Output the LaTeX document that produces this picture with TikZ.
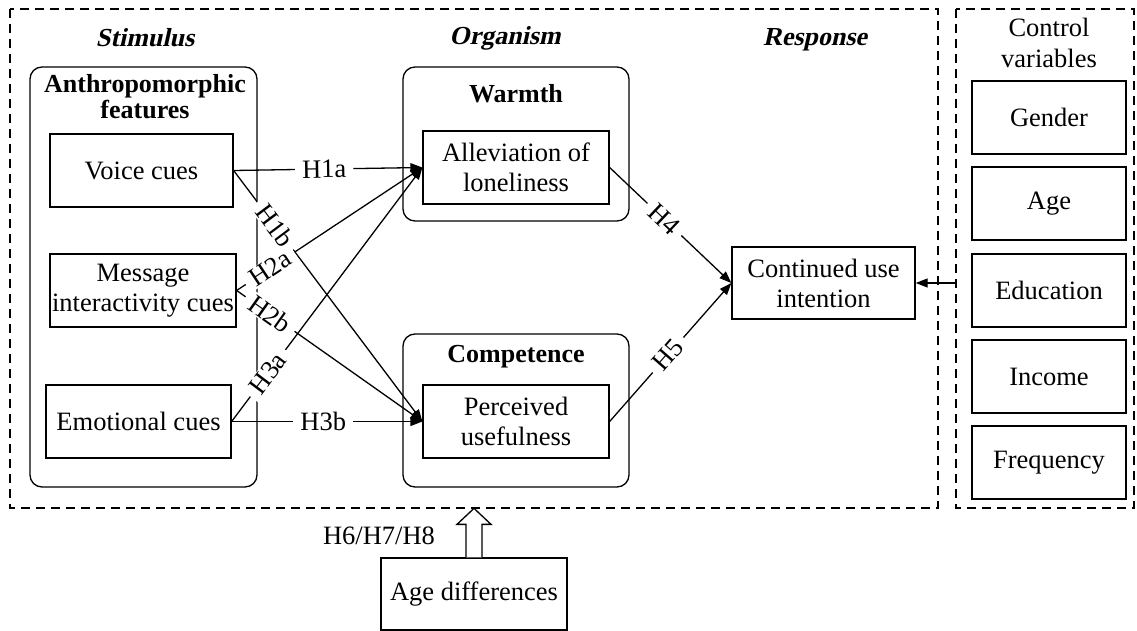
\documentclass[tikz,border=0pt]{standalone}
\usepackage{fontspec}
\setmainfont{Liberation Serif}
\newfontfamily\bifont[FakeSlant=0.22]{Liberation Serif}
\usetikzlibrary{arrows.meta}
\begin{document}
\begin{tikzpicture}[x=1pt,y=-1pt,
  font=\fontsize{26.5}{30}\selectfont,
  line width=1.3pt,
  box/.style={draw, inner sep=0pt, align=center},
  group/.style={draw, rounded corners=12pt, inner sep=0pt},
  frame/.style={draw, dash pattern=on 9pt off 6pt, line width=1.4pt},
  title/.style={font=\fontsize{26}{26}\selectfont\bfseries, align=center, inner sep=0pt},
  stage/.style={font=\fontsize{26}{30}\bifont\bfseries, inner sep=0pt},
  hyp/.style={fill=white, inner xsep=7pt, inner ysep=1pt, sloped},
  arr/.style={-{Triangle[length=12pt,width=9pt]}}
]
\useasboundingbox (0,0) rectangle (1137,631);

% frames
\draw[frame] (10,9) rectangle (938,508);
\draw[frame] (956,9) rectangle (1134,508);

% stage labels
\node[stage] (stim) at (145,38) {Stimulus};
\node[stage] (org) at (505,38) {Organism};
\node[stage] (resp) at (815,40) {Response};

% groups
\node[group, minimum width=227pt, minimum height=420pt] (anthro) at (143.5,277) {};
\node[title] (anthroT) at (145,97) {Anthropomorphic\\features};
\node[group, minimum width=226pt, minimum height=154pt] (warm) at (516,144) {};
\node[title] (warmT) at (516,94) {Warmth};
\node[group, minimum width=226pt, minimum height=153pt] (comp) at (516,410.5) {};
\node[title] (compT) at (516,357) {Competence};

% stimulus boxes
\node[box, minimum width=183pt, minimum height=73pt] (voice) at (141.5,170.5) {Voice cues};
\node[box, minimum width=186pt, minimum height=73pt] (msg) at (143,290.5) {Message\\interactivity cues};
\node[box, minimum width=185pt, minimum height=73pt] (emo) at (138.5,421.5) {Emotional cues};

% organism boxes
\node[box, minimum width=186pt, minimum height=73pt] (allev) at (516,167.5) {Alleviation of\\loneliness};
\node[box, minimum width=186pt, minimum height=73pt] (useful) at (516,421.5) {Perceived\\usefulness};

% response
\node[box, minimum width=183pt, minimum height=72pt] (cont) at (823.5,283) {Continued use\\intention};

% control variables
\node[align=center, inner sep=0pt, font=\fontsize{26.5}{31}\selectfont] (ctrlT) at (1049,43) {Control\\variables};
\node[box, minimum width=154pt, minimum height=73pt] (gender) at (1049,117.5) {Gender};
\node[box, minimum width=154pt, minimum height=73pt] (age) at (1049,203.5) {Age};
\node[box, minimum width=154pt, minimum height=73pt] (edu) at (1049,290.5) {Education};
\node[box, minimum width=154pt, minimum height=73pt] (inc) at (1049,376.5) {Income};
\node[box, minimum width=154pt, minimum height=73pt] (freq) at (1049,462.5) {Frequency};

% age differences
\node[box, minimum width=186pt, minimum height=72pt] (agediff) at (474,594) {Age differences};
\node[inner sep=0pt] (hlab) at (379,536) {H6/H7/H8};
\draw[fill=white, line width=1.3pt, shift={(agediff.north)}]
  (-8,0) -- (-8,-33) -- (-17,-33) -- (0,-49) -- (17,-33) -- (8,-33) -- (8,0);

% hypotheses
\draw[arr] (voice.east) -- node[hyp, pos=0.48] {H1a} (allev.west);
\draw[arr] (voice.east) -- node[hyp, pos=0.22] {H1b} (useful.west);
\draw[arr] (msg.east) -- node[hyp, pos=0.18] {H2a} (allev.west);
\draw[arr] (msg.east) -- node[hyp, pos=0.18] {H2b} (useful.west);
\draw[arr] (emo.east) -- node[hyp, pos=0.19] {H3a} (allev.west);
\draw[arr] (emo.east) -- node[hyp, pos=0.48] {H3b} (useful.west);
\draw[arr] (allev.east) -- node[hyp, pos=0.45] {H4} (cont.west);
\draw[arr] (useful.east) -- node[hyp, pos=0.48] {H5} (cont.west);

% control arrow
\coordinate (ctrlL) at (956,283);
\draw[arr] (ctrlL) -- (cont.east);
\end{tikzpicture}
\end{document}
